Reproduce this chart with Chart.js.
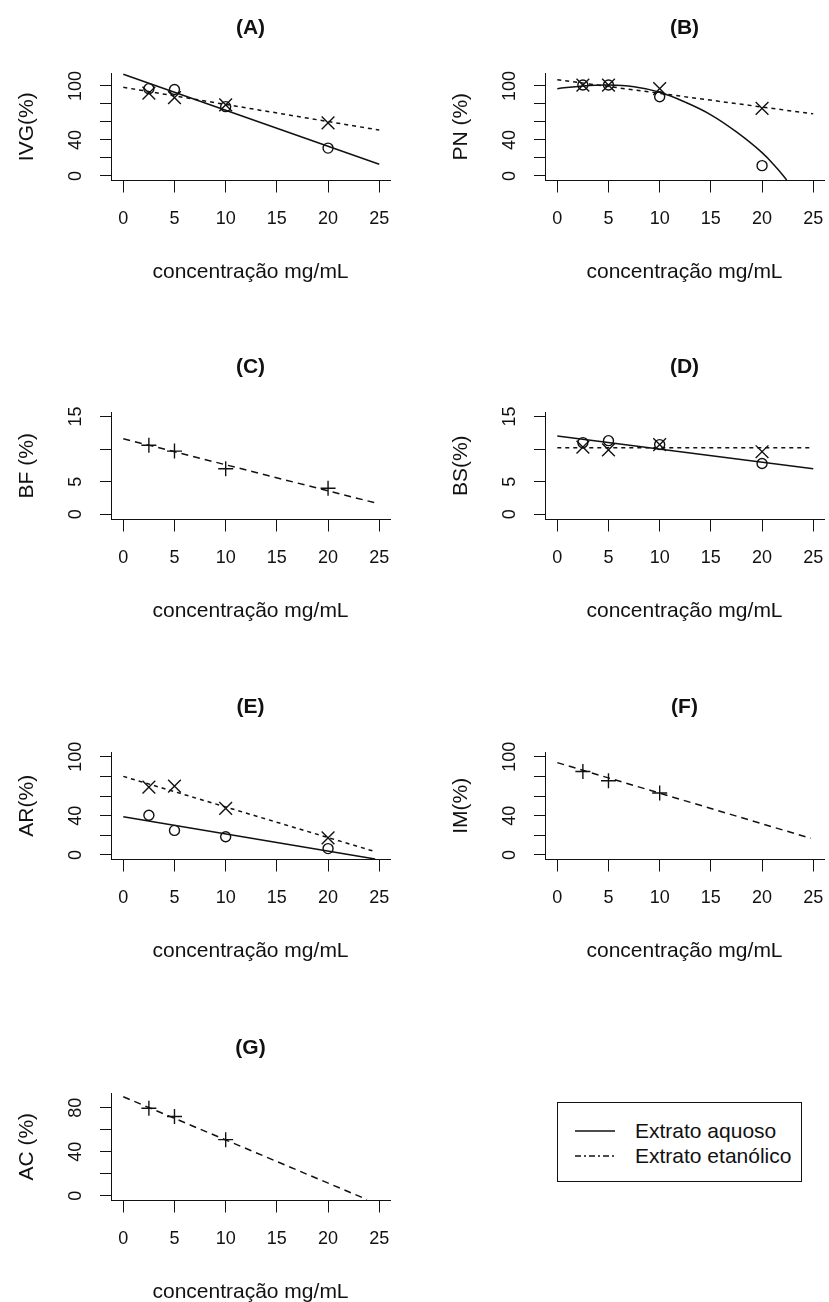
<!DOCTYPE html>
<html>
<head>
<meta charset="utf-8">
<script src="https://cdn.jsdelivr.net/npm/chart.js@4.4.0/dist/chart.umd.min.js"></script>
<style>
  html, body { margin: 0; padding: 0; background: #fff; }
  #page { position: relative; width: 829px; height: 1302px; overflow: hidden; background: #fff; }
  #page canvas { position: absolute; }
  #legend {
    position: absolute; left: 557px; top: 1102px; width: 245px; height: 80px;
    box-sizing: border-box; border: 1px solid #111; color: #111;
    font: 21px 'Liberation Sans', Arial, sans-serif;
  }
  #legend .row { position: absolute; left: 17px; height: 25px; display: flex; align-items: center; white-space: nowrap; }
  #legend svg { margin-right: 20px; }
</style>
</head>
<body>
<div id="page">
  <div id="legend">
    <div class="row" style="top:15px"><svg width="40" height="6"><line x1="0" y1="3" x2="40" y2="3" stroke="#111" stroke-width="1.5"/></svg><span>Extrato aquoso</span></div>
    <div class="row" style="top:40px"><svg width="40" height="6"><line x1="0" y1="3" x2="40" y2="3" stroke="#111" stroke-width="1.5" stroke-dasharray="6 3 2 3"/></svg><span>Extrato etanólico</span></div>
  </div>
</div>
<script>
// dados
const xTicks = [0, 5, 10, 15, 20, 25];
const doses = [2.5, 5, 10, 20];
const dosesShort = [2.5, 5, 10];

// (A) IVG
const ivgAquoso = [97, 96, 77, 31];
const ivgEtanolico = [92, 87, 79, 59];
const ivgAquosoLineX = [0, 25], ivgAquosoLineY = [113, 13];
const ivgEtanolicoLineX = [0, 25], ivgEtanolicoLineY = [98.5, 51];

// (B) PN
const pnAquoso = [101, 101, 88, 11.5];
const pnEtanolico = [101, 101, 97, 75];
const pnAquosoCurveX = [0, 2.5, 5, 7.5, 10, 12.5, 15, 17.5, 20, 21.5, 22.4];
const pnAquosoCurveY = [97, 100, 101, 99, 93, 82, 68, 49, 26, 8, -4.4];
const pnEtanolicoLineX = [0, 25], pnEtanolicoLineY = [107, 69];

// (C) BF
const bfEtanolico = [10.6, 9.7, 7.0, 4.0];
const bfLineX = [0, 24.5], bfLineY = [11.6, 1.8];

// (D) BS
const bsAquoso = [11.0, 11.3, 10.7, 7.8];
const bsEtanolico = [10.3, 9.9, 10.7, 9.6];
const bsAquosoLineX = [0, 25], bsAquosoLineY = [12, 7];
const bsEtanolicoLineX = [0, 25], bsEtanolicoLineY = [10.2, 10.2];

// (E) AR
const arAquoso = [40.5, 25, 18.5, 6.5];
const arEtanolico = [69, 70, 47.5, 17.5];
const arAquosoLineX = [0, 24.6], arAquosoLineY = [39, -4];
const arEtanolicoLineX = [0, 24.6], arEtanolicoLineY = [80, 3.4];

// (F) IM
const imEtanolico = [85, 75.5, 63];
const imLineX = [0, 24.75], imLineY = [94, 17];

// (G) AC
const acEtanolico = [79.5, 72, 51];
const acLineX = [0, 23.8], acLineY = [90, -3.4];

const FONT = "'Liberation Sans', Arial, sans-serif";
const INK = '#111';
const page = document.getElementById('page');

const pts = (xs, ys) => xs.map((x, i) => ({ x: x, y: ys[i] }));

function lineSet(xs, ys, dash, tension) {
  return {
    data: pts(xs, ys), showLine: true, borderColor: INK, borderWidth: 1.5,
    borderDash: dash || [], pointRadius: 0, tension: tension || 0
  };
}

function markSet(xs, ys, style) {
  const radius = { circle: 5, crossRot: 9, cross: 7.5 }[style];
  return {
    data: pts(xs, ys), showLine: false, pointStyle: style, pointRadius: radius,
    pointBorderColor: INK, pointBackgroundColor: 'rgba(0,0,0,0)', pointBorderWidth: 1.4
  };
}

// medir rótulos para centrar os números rotacionados do eixo y
const mctx = document.createElement('canvas').getContext('2d');
function textWidth(str, size) {
  mctx.font = size + 'px ' + FONT;
  return mctx.measureText(str).width;
}

const DOT = [4, 4];
const DASH = [7, 5];

const panels = [
  { title: '(A)', yLabel: 'IVG(%)', col: 0, row: 0, yMin: -5, yMax: 114.4, step: 20, shown: [0, 40, 100],
    datasets: [
      lineSet(ivgAquosoLineX, ivgAquosoLineY),
      lineSet(ivgEtanolicoLineX, ivgEtanolicoLineY, DOT),
      markSet(doses, ivgAquoso, 'circle'),
      markSet(doses, ivgEtanolico, 'crossRot')
    ] },
  { title: '(B)', yLabel: 'PN (%)', col: 1, row: 0, yMin: -5, yMax: 114.4, step: 20, shown: [0, 40, 100],
    datasets: [
      lineSet(pnAquosoCurveX, pnAquosoCurveY, null, 0.4),
      lineSet(pnEtanolicoLineX, pnEtanolicoLineY, DOT),
      markSet(doses, pnAquoso, 'circle'),
      markSet(doses, pnEtanolico, 'crossRot')
    ] },
  { title: '(C)', yLabel: 'BF (%)', col: 0, row: 1, yMin: -0.8, yMax: 15.7, step: 5, shown: [0, 5, 15],
    datasets: [
      lineSet(bfLineX, bfLineY, DASH),
      markSet(doses, bfEtanolico, 'cross')
    ] },
  { title: '(D)', yLabel: 'BS(%)', col: 1, row: 1, yMin: -0.8, yMax: 15.7, step: 5, shown: [0, 5, 15],
    datasets: [
      lineSet(bsAquosoLineX, bsAquosoLineY),
      lineSet(bsEtanolicoLineX, bsEtanolicoLineY, DOT),
      markSet(doses, bsAquoso, 'circle'),
      markSet(doses, bsEtanolico, 'crossRot')
    ] },
  { title: '(E)', yLabel: 'AR(%)', col: 0, row: 2, yMin: -4.6, yMax: 104.8, step: 20, shown: [0, 40, 100],
    datasets: [
      lineSet(arAquosoLineX, arAquosoLineY),
      lineSet(arEtanolicoLineX, arEtanolicoLineY, DOT),
      markSet(doses, arAquoso, 'circle'),
      markSet(doses, arEtanolico, 'crossRot')
    ] },
  { title: '(F)', yLabel: 'IM(%)', col: 1, row: 2, yMin: -4.6, yMax: 104.8, step: 20, shown: [0, 40, 100],
    datasets: [
      lineSet(imLineX, imLineY, DASH),
      markSet(dosesShort, imEtanolico, 'cross')
    ] },
  { title: '(G)', yLabel: 'AC (%)', col: 0, row: 3, yMin: -4.3, yMax: 93.4, step: 20, shown: [0, 40, 80],
    datasets: [
      lineSet(acLineX, acLineY, DASH),
      markSet(dosesShort, acEtanolico, 'cross')
    ] }
];

const colLeft = [5, 439];
const rowTop = [8, 347, 687, 1028];
const AXIS_W = 106;      // largura do eixo y (e do eixo fantasma à direita)
const TICK_SIZE = 18;

panels.forEach(p => {
  const canvas = document.createElement('canvas');
  canvas.width = 491;
  canvas.height = 285;
  canvas.style.left = colLeft[p.col] + 'px';
  canvas.style.top = rowTop[p.row] + 'px';
  page.appendChild(canvas);

  const widest = Math.max(...p.shown.map(v => textWidth(String(v), TICK_SIZE)));
  const yPad = 35 - 11 - widest / 2;

  new Chart(canvas, {
    type: 'scatter',
    data: { datasets: p.datasets },
    options: {
      responsive: false,
      animation: false,
      devicePixelRatio: 1,
      layout: { padding: 0 },
      plugins: {
        legend: { display: false },
        tooltip: { enabled: false },
        title: {
          display: true, text: p.title, color: INK,
          font: { family: FONT, size: 21, weight: 'bold' },
          padding: { top: 7.4, bottom: 32.4 }
        }
      },
      scales: {
        x: {
          type: 'linear', position: 'bottom', min: -1.2, max: 26.05,
          afterFit: s => { s.height = 112.5; },
          afterBuildTicks: s => { s.ticks = xTicks.map(v => ({ value: v })); },
          border: { display: true, color: INK, width: 1 },
          grid: { drawOnChartArea: false, drawTicks: true, tickLength: 12, color: INK, lineWidth: 1 },
          ticks: {
            autoSkip: false, maxRotation: 0, padding: 15.7, color: INK,
            font: { family: FONT, size: TICK_SIZE }
          },
          title: {
            display: true, text: 'concentração mg/mL', color: INK,
            font: { family: FONT, size: 21 }, padding: { top: 0, bottom: 8.4 }
          }
        },
        y: {
          type: 'linear', position: 'left', min: p.yMin, max: p.yMax,
          afterFit: s => { s.width = AXIS_W; },
          border: { display: true, color: INK, width: 1 },
          grid: { drawOnChartArea: false, drawTicks: true, tickLength: 11, color: INK, lineWidth: 1 },
          ticks: {
            stepSize: p.step, includeBounds: false, autoSkip: false,
            minRotation: 90, maxRotation: 90, crossAlign: 'center', padding: yPad,
            color: INK, font: { family: FONT, size: TICK_SIZE },
            callback: v => p.shown.includes(v) ? String(v) : ''
          },
          title: {
            display: true, text: p.yLabel, color: INK,
            font: { family: FONT, size: 21 }, padding: { top: 9.4, bottom: 0 }
          }
        },
        yRight: {
          type: 'linear', position: 'right', display: true,
          afterFit: s => { s.width = AXIS_W; },
          border: { display: false }, grid: { display: false }, ticks: { display: false }
        }
      }
    }
  });
});
</script>
</body>
</html>
